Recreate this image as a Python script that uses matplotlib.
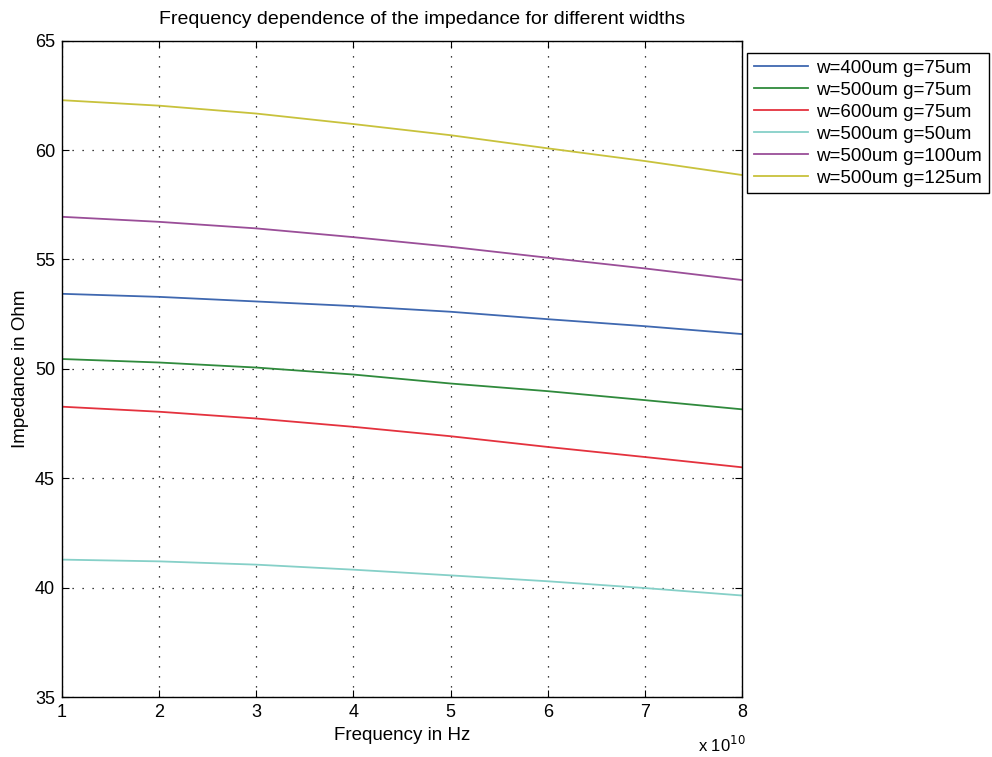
import matplotlib
matplotlib.use("Agg")
import matplotlib.pyplot as plt

plt.rcParams['font.family'] = ['Liberation Sans', 'DejaVu Sans']

# frequency in units of 1e10 Hz
freq = [1, 2, 3, 4, 5, 6, 7, 8]

labels = ['w=400um g=75um', 'w=500um g=75um', 'w=600um g=75um',
          'w=500um g=50um', 'w=500um g=100um', 'w=500um g=125um']

z_w400_g75 = [53.43, 53.29, 53.08, 52.87, 52.61, 52.27, 51.95, 51.59]
z_w500_g75 = [50.45, 50.29, 50.06, 49.74, 49.33, 48.98, 48.57, 48.15]
z_w600_g75 = [48.27, 48.04, 47.73, 47.35, 46.92, 46.43, 45.97, 45.50]
z_w500_g50 = [41.28, 41.20, 41.05, 40.82, 40.56, 40.29, 39.98, 39.64]
z_w500_g100 = [56.95, 56.72, 56.42, 56.02, 55.58, 55.08, 54.59, 54.06]
z_w500_g125 = [62.28, 62.03, 61.67, 61.19, 60.68, 60.08, 59.50, 58.86]

series = [z_w400_g75, z_w500_g75, z_w600_g75, z_w500_g50, z_w500_g100, z_w500_g125]
colors = ['#3f68b0', '#2f8a3c', '#e4323e', '#86d0c8', '#9a4e98', '#c8c23c']

fig = plt.figure(figsize=(9.92, 7.57), dpi=100)
ax = fig.add_axes([62/992, 1 - 697/757, 680/992, 656.3/757])

for vals, c, lab in zip(series, colors, labels):
    ax.plot(freq, vals, color=c, linewidth=1.3, label=lab)

ax.set_xlim(1, 8)
ax.set_ylim(35, 65)
ax.set_xticks(freq)
ax.set_yticks([35, 40, 45, 50, 55, 60, 65])
ax.grid(True, color='black', linestyle=(0, (1, 7)), linewidth=0.9)
ax.tick_params(direction='in', top=True, right=True, length=5, labelsize=13, pad=5)
for sp in ax.spines.values():
    sp.set_linewidth(1.0)

ax.set_title('Frequency dependence of the impedance for different widths',
             fontsize=14, pad=12, x=0.53)
ax.set_xlabel('Frequency in Hz', fontsize=13.5, labelpad=4)
ax.set_ylabel('Impedance in Ohm', fontsize=13.5, labelpad=4)
fig.text(698/992, 1 - 745/757, r'x 10$^{10}$', fontsize=12, va='center')

fig.legend(loc='upper left', bbox_to_anchor=(747/992, 1 - 53/757), fontsize=13.5,
           frameon=True, fancybox=False, edgecolor='black', framealpha=1,
           handlelength=2.9, handletextpad=0.45, labelspacing=0.26,
           borderpad=0.35, borderaxespad=0)

fig.savefig('out.png', dpi=100)
